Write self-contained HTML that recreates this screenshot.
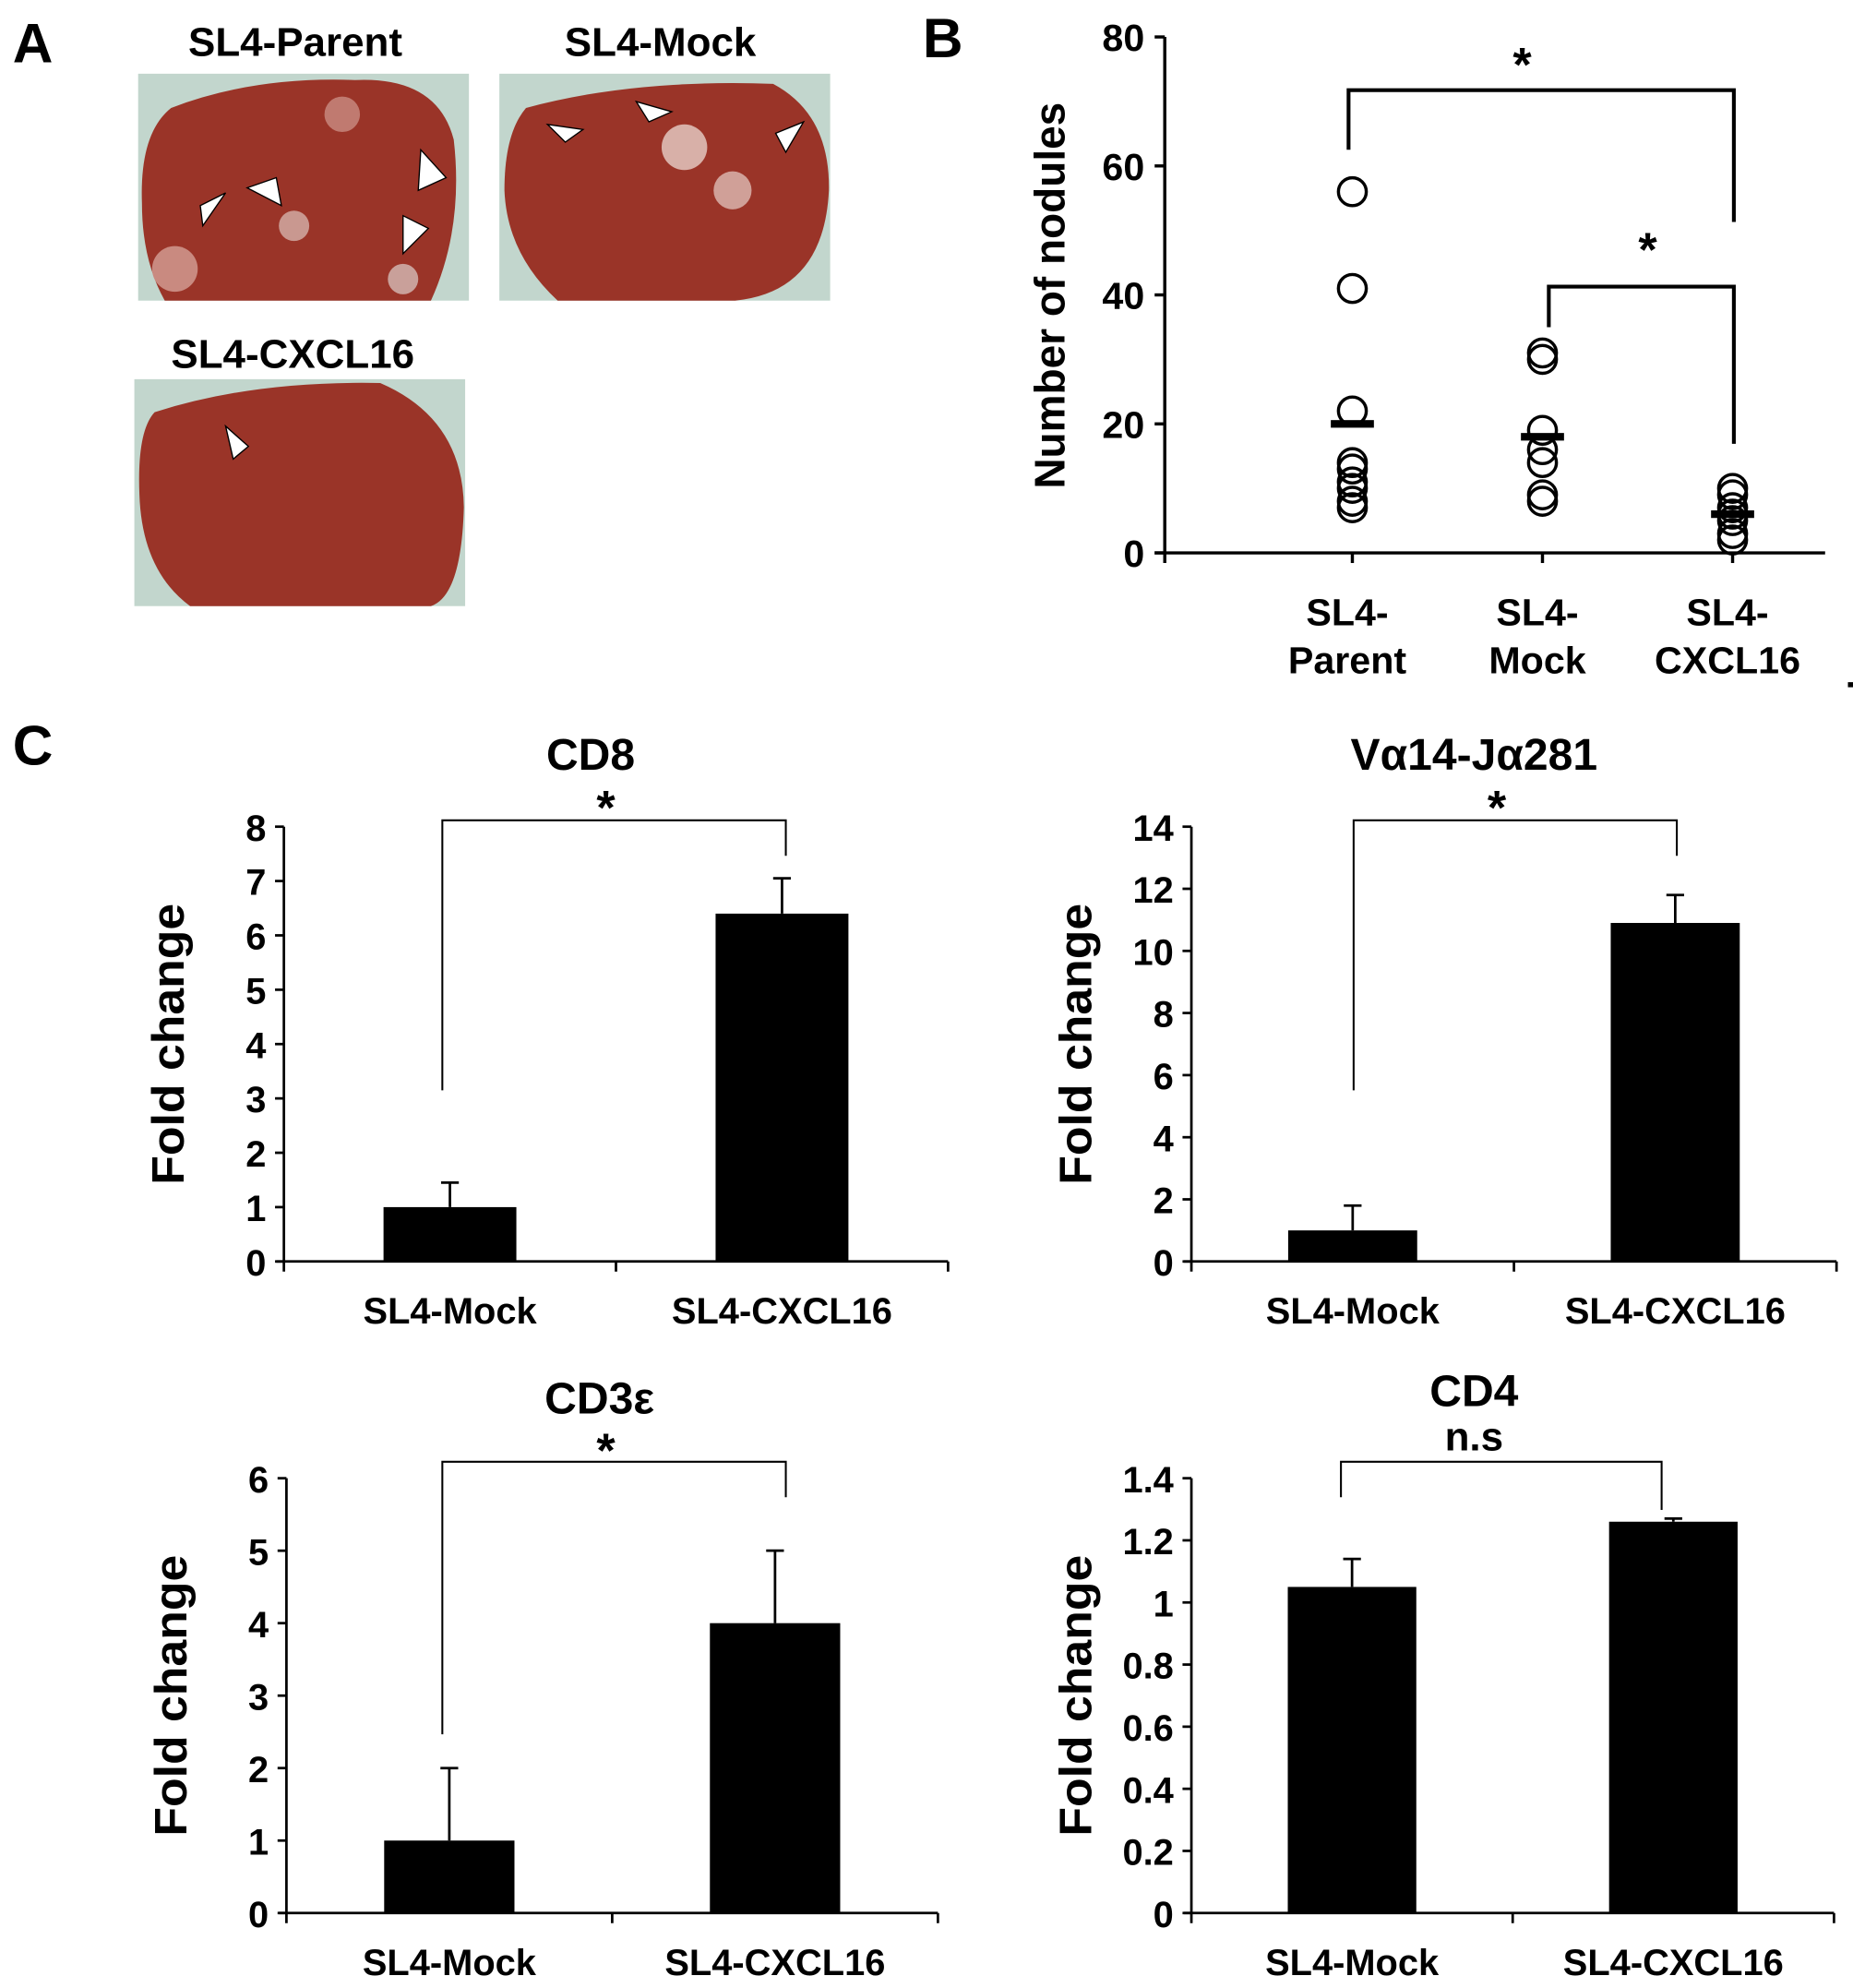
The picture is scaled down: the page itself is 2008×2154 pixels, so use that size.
<!DOCTYPE html>
<html><head><meta charset="utf-8"><style>
html,body{margin:0;padding:0;background:#fff}
svg{display:block}
text{font-family:"Liberation Sans",sans-serif;font-weight:bold;fill:#000}
</style></head><body>
<svg id="fig" width="2008" height="2154" viewBox="0 0 1462 1568" xmlns="http://www.w3.org/2000/svg">
<text x="10" y="49" font-size="44">A</text>
<text x="728" y="45" font-size="44">B</text>
<text x="10" y="603" font-size="44">C</text>
<text x="233" y="44" font-size="32" text-anchor="middle">SL4-Parent</text>
<text x="521" y="44" font-size="32" text-anchor="middle">SL4-Mock</text>
<text x="231" y="290" font-size="32" text-anchor="middle">SL4-CXCL16</text>
<g>
<rect x="109" y="58" width="261" height="179" fill="#c2d6cd"/>
<path d="M135,85 Q200,60 280,63 Q345,60 358,110 Q366,180 340,237 L130,237 Q112,205 112,160 Q110,105 135,85Z" fill="#9a3428"/>
<circle cx="138" cy="212" r="18" fill="#c98a80"/><circle cx="232" cy="178" r="12" fill="#c99890"/><circle cx="318" cy="220" r="12" fill="#c9a09a"/><circle cx="270" cy="90" r="14" fill="#c07a70"/>
<polygon points="158,162 178,152 160,178" fill="#fff" stroke="#000"/><polygon points="195,148 218,140 222,162" fill="#fff" stroke="#000"/><polygon points="332,118 352,140 330,150" fill="#fff" stroke="#000"/><polygon points="318,170 338,180 318,200" fill="#fff" stroke="#000"/>
</g>
<g>
<rect x="394" y="58" width="261" height="179" fill="#c2d6cd"/>
<path d="M415,85 Q500,62 610,66 Q655,90 654,150 Q650,230 580,237 L440,237 Q400,200 398,150 Q398,105 415,85Z" fill="#9a3428"/>
<circle cx="540" cy="116" r="18" fill="#d8b0a8"/><circle cx="578" cy="150" r="15" fill="#d0a098"/>
<polygon points="432,98 460,102 446,112" fill="#fff" stroke="#000"/><polygon points="502,80 530,88 512,96" fill="#fff" stroke="#000"/><polygon points="612,105 634,96 620,120" fill="#fff" stroke="#000"/>
</g>
<g>
<rect x="106" y="299" width="261" height="179" fill="#c2d6cd"/>
<path d="M122,325 Q200,300 300,302 Q365,330 366,400 Q364,470 340,478 L150,478 Q112,450 110,390 Q108,340 122,325Z" fill="#9a3428"/>
<polygon points="178,336 196,352 184,362" fill="#fff" stroke="#000"/>
</g>
<g id="panelB"></g>
<g id="cd8"></g>
<g id="va14"></g>
<g id="cd3"></g>
<g id="cd4"></g>
</svg>
<script>
const NS="http://www.w3.org/2000/svg";
// Panel B data
const bCategories=["Parent","Mock","CXCL16"];
const bParent=[56,41,22,14,13,11,10,8,7];
const bMock=[31,30,19,16,14,9,8];
const bCxcl=[10,9,7,6,5,3,2];
const bMeans=[20,18,6];
const bTicks=[0,20,40,60,80];
// Panel C data
const barCategories=["SL4-Mock","SL4-CXCL16"];
const cd8Values=[1,6.4];const cd8Errors=[1.45,7.05];const cd8Ticks=[0,1,2,3,4,5,6,7,8];
const vaValues=[1,10.9];const vaErrors=[1.8,11.8];const vaTicks=[0,2,4,6,8,10,12,14];
const cd3Values=[1,4];const cd3Errors=[2,5];const cd3Ticks=[0,1,2,3,4,5,6];
const cd4Values=[1.05,1.26];const cd4Errors=[1.14,1.27];const cd4Ticks=["0","0.2","0.4","0.6","0.8","1","1.2","1.4"];

function el(p,tag,a,txt){const e=document.createElementNS(NS,tag);for(const k in a)e.setAttribute(k,a[k]);if(txt!==undefined)e.textContent=txt;p.appendChild(e);return e;}
function line(p,x1,y1,x2,y2,w){return el(p,"line",{x1,y1,x2,y2,stroke:"#000","stroke-width":w||2});}

// Panel B
(function(){
const g=document.getElementById("panelB");
const x0=919,x1=1440,y0=436,yTop=29,max=80;
const y=v=>y0-(v/max)*(y0-yTop);
const cx=i=>1067+i*150;
line(g,x0,yTop,x0,y0+8,2.5);line(g,x0-8,y0,x1,y0,2.5);
bTicks.forEach(t=>{line(g,x0-8,y(t),x0,y(t),2.5);
const tl=el(g,"text",{x:x0-16,y:y(t)+11,"font-size":30,"text-anchor":"end"},String(t));
});
bCategories.forEach((c,i)=>{line(g,cx(i),y0,cx(i),y0+8,2.5);
const t1=el(g,"text",{x:cx(i)-4,y:493,"font-size":30,"text-anchor":"middle"},"SL4-");

const t2=el(g,"text",{x:cx(i)-4,y:531,"font-size":30,"text-anchor":"middle"},c);
});
const yl=el(g,"text",{x:0,y:0,"font-size":34,"text-anchor":"middle",textLength:305,lengthAdjust:"spacingAndGlyphs",transform:"translate(840,233) rotate(-90)"},"Number of nodules");

[bParent,bMock,bCxcl].forEach((arr,i)=>{arr.forEach(v=>{
const c=el(g,"circle",{cx:cx(i),cy:y(v),r:11,fill:"none",stroke:"#000","stroke-width":2.5});
});
const m=el(g,"rect",{x:cx(i)-17,y:y(bMeans[i])-3,width:34,height:6,fill:"#000"});
});
const p=el(g,"polyline",{points:`${cx(0)-3},118 ${cx(0)-3},71 1368,71 1368,175`,fill:"none",stroke:"#000","stroke-width":3});

const p2=el(g,"polyline",{points:`1222,258 1222,226 1368,226 1368,350`,fill:"none",stroke:"#000","stroke-width":3});

const s1=el(g,"text",{x:1201,y:64,"font-size":38,"text-anchor":"middle"},"*");

const s2=el(g,"text",{x:1300,y:210,"font-size":38,"text-anchor":"middle"},"*");

line(document.getElementById("fig"),1458,540,1462,540,4);
})();

function barChart(id,cfg,values,errors,ticks){
const g=document.getElementById(id);
const {ax,ay0,ayTop,axEnd,max,title,titleY,sig,sigY,br}=cfg;
const y=v=>ay0-(v/max)*(ay0-ayTop);
const mid=(ax+axEnd)/2;
const cx=i=>ax+(axEnd-ax)*(0.25+0.5*i);
const bw=(axEnd-ax)*0.2;
line(g,ax,ayTop,ax,ay0+8,2);line(g,ax-6,ay0,axEnd,ay0,2);
line(g,mid,ay0,mid,ay0+8,2);line(g,axEnd,ay0,axEnd,ay0+8,2);
ticks.forEach(t=>{const v=parseFloat(t);line(g,ax-7,y(v),ax,y(v),2);
const tl=el(g,"text",{x:ax-14,y:y(v)+11,"font-size":29,"text-anchor":"end"},String(t));
});
barCategories.forEach((c,i)=>{
const t=el(g,"text",{x:cx(i),y:ay0+49,"font-size":29,"text-anchor":"middle"},c);

const b=el(g,"rect",{x:cx(i)-bw/2,y:y(values[i]),width:bw,height:ay0-y(values[i]),fill:"#000"});

const e=el(g,"path",{d:`M${cx(i)},${y(values[i])} V${y(errors[i])} M${cx(i)-7},${y(errors[i])} H${cx(i)+7}`,stroke:"#000","stroke-width":2,fill:"none"});
});
const yl=el(g,"text",{x:0,y:0,"font-size":36,"text-anchor":"middle",textLength:222,lengthAdjust:"spacingAndGlyphs",transform:`translate(${ax-79},${(ay0+ayTop)/2}) rotate(-90)`},"Fold change");

const tt=el(g,"text",{x:cfg.tx,y:titleY,"font-size":35,"text-anchor":"middle"},title);

const st=el(g,"text",{x:cfg.sx,y:sigY,"font-size":sig=="*"?38:32,"text-anchor":"middle"},sig);

const p=el(g,"polyline",{points:`${br[0]},${br[1]} ${br[0]},${br[2]} ${br[3]},${br[2]} ${br[3]},${br[4]}`,fill:"none",stroke:"#000","stroke-width":1.5});

}
barChart("cd8",{ax:224,ay0:995,ayTop:652,axEnd:748,max:8,title:"CD8",tx:466,titleY:607,sig:"*",sx:478,sigY:650,br:[349,860,647,620,675]},cd8Values,cd8Errors,cd8Ticks);
barChart("va14",{ax:940,ay0:995,ayTop:652,axEnd:1449,max:14,title:"Vα14-Jα281",tx:1163,titleY:607,sig:"*",sx:1181,sigY:650,br:[1068,860,647,1323,675]},vaValues,vaErrors,vaTicks);
barChart("cd3",{ax:226,ay0:1509,ayTop:1166,axEnd:740,max:6,title:"CD3ε",tx:473,titleY:1115,sig:"*",sx:478,sigY:1157,br:[349,1368,1153,620,1181]},cd3Values,cd3Errors,cd3Ticks);
barChart("cd4",{ax:940,ay0:1509,ayTop:1166,axEnd:1447,max:1.4,title:"CD4",tx:1163,titleY:1109,sig:"n.s",sx:1163,sigY:1144,br:[1058,1181,1153,1311,1191]},cd4Values,cd4Errors,cd4Ticks);
</script>
</body></html>
